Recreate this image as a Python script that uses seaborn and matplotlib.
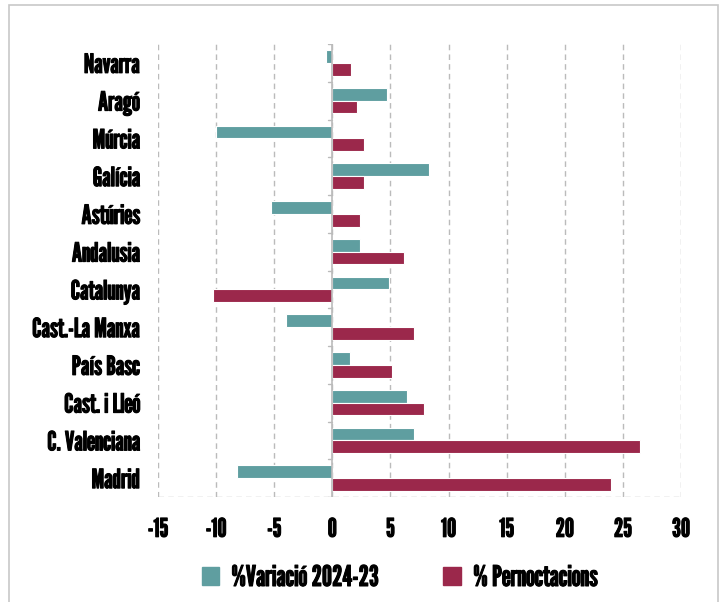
import matplotlib
matplotlib.use("Agg")
import matplotlib.pyplot as plt
import matplotlib.patheffects as pe
import seaborn as sns
import pandas as pd
import numpy as np
from matplotlib.patches import Rectangle
from matplotlib.ticker import FixedLocator

regions = ["Navarra", "Aragó", "Múrcia", "Galícia", "Astúries", "Andalusia",
           "Catalunya", "Cast.-La Manxa", "País Basc", "Cast. i Lleó",
           "C. Valenciana", "Madrid"]
variacio = [-0.55, 4.7, -10.0, 8.3, -5.25, 2.35, 4.9, -3.95, 1.5, 6.4, 7.0, -8.2]
pernoct = [1.6, 2.1, 2.7, 2.75, 2.4, 6.15, -10.3, 7.0, 5.15, 7.9, 26.45, 24.0]
series_names = ["%Variació 2024-23", "% Pernoctacions"]
xticks = [-15, -10, -5, 0, 5, 10, 15, 20, 25, 30]

teal = "#5f9ea0"
maroon = "#9b284b"

df = pd.DataFrame({
    "region": regions * 2,
    "valor": variacio + pernoct,
    "serie": [series_names[0]] * len(regions) + [series_names[1]] * len(regions),
})

sns.set_style("white")
FONT = ["League Gothic", "Oswald", "DejaVu Sans"]
plt.rcParams["font.family"] = FONT
plt.rcParams["text.color"] = "black"
plt.rcParams["xtick.color"] = "black"
plt.rcParams["ytick.color"] = "black"
BOLD = [pe.withStroke(linewidth=0.75, foreground="black")]

fig = plt.figure(figsize=(7.23, 6.02), dpi=100)
ax = fig.add_axes([158 / 723, 1 - 497 / 602, (681 - 158) / 723, (497 - 44) / 602])

sns.barplot(data=df, y="region", x="valor", hue="serie", orient="h",
            palette=[teal, maroon], width=0.67, edgecolor="white",
            linewidth=0.8, ax=ax, legend=True, saturation=1)

n = len(regions)
ax.set_xlim(xticks[0], xticks[-1])
ax.set_ylim(n - 0.5, -0.5)
ax.set_xlabel("")
ax.set_ylabel("")

for s in ax.spines.values():
    s.set_visible(False)

# vertical dashed grid
ax.set_xticks(xticks)
ax.set_xticklabels([str(t) for t in xticks], fontsize=18.5)
ax.grid(axis="x", color="#bbbbbb", linestyle=(0, (4, 3)), linewidth=1)
ax.grid(axis="y", visible=False)
ax.tick_params(axis="x", length=9, color="#bbbbbb", pad=6, direction="out",
               labelcolor="black")
ax.axhline(n - 0.5, color="#bbbbbb", linestyle=(0, (4, 3)), linewidth=1)
ax.axvline(0, color="#bbbbbb", linewidth=1.2)

# category ticks at boundaries; labels at centres
bounds = np.arange(-0.5, n, 1.0)
ax.yaxis.set_major_locator(FixedLocator(bounds))
ax.set_yticklabels([""] * len(bounds))
ax.yaxis.set_minor_locator(FixedLocator(np.arange(n)))
ax.set_yticklabels(regions, minor=True, fontsize=19)
ax.tick_params(axis="y", which="major", length=8, color="#bbbbbb", width=1)
ax.tick_params(axis="y", which="minor", length=0, pad=13, labelcolor="black")
for b in bounds:
    ax.plot([-0.35, 0], [b, b], color="#bbbbbb", linewidth=1)

for t in ax.get_xticklabels() + ax.get_yticklabels(minor=True):
    t.set_path_effects(BOLD)

# legend at bottom
ax.get_legend().remove()
handles = [Rectangle((0, 0), 1, 1, color=teal), Rectangle((0, 0), 1, 1, color=maroon)]
leg = fig.legend(handles, series_names, loc="center", bbox_to_anchor=(400 / 723, 1 - 578 / 602),
                 ncol=2, frameon=False, prop={"family": FONT, "size": 20.5},
                 handlelength=0.6, handleheight=0.6, handletextpad=0.45, columnspacing=2.25)
for t in leg.get_texts():
    t.set_path_effects(BOLD)

# figure border
fig.add_artist(Rectangle((9 / 723, -0.05), (718 - 9) / 723, 1.05 - 5 / 602,
                         transform=fig.transFigure, fill=False,
                         edgecolor="#c8c8c8", linewidth=1.2))

fig.savefig("out.png", dpi=100)
